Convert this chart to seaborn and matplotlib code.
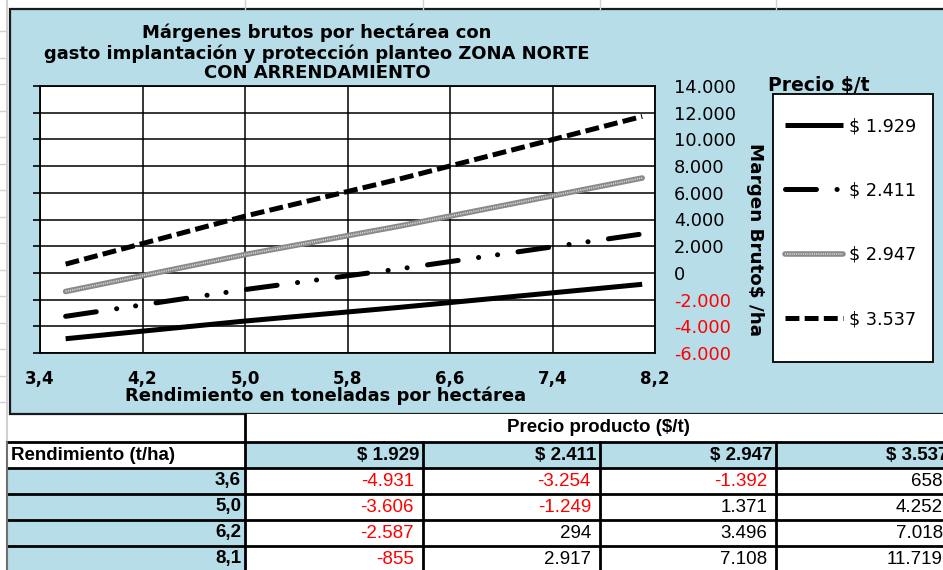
import matplotlib
matplotlib.use("Agg")
import matplotlib.pyplot as plt
import numpy as np
import pandas as pd
import seaborn as sns
from matplotlib.patches import Rectangle
from matplotlib.lines import Line2D
from matplotlib import font_manager

# ---------------- data ----------------
rendimientos = [3.6, 5.0, 6.2, 8.1]
precios = [1929, 2411, 2947, 3537]
margen_1929 = [-4931, -3606, -2587, -855]
margen_2411 = [-3254, -1249, 294, 2917]
margen_2947 = [-1392, 1371, 3496, 7108]
margen_3537 = [658, 4252, 7018, 11719]
x_ticks = [3.4, 4.2, 5.0, 5.8, 6.6, 7.4, 8.2]
y_ticks = [-6000, -4000, -2000, 0, 2000, 4000, 6000, 8000, 10000, 12000, 14000]

titulo = ("Márgenes brutos por hectárea con\n"
          "gasto implantación y protección planteo ZONA NORTE\n"
          "CON ARRENDAMIENTO")
x_label = "Rendimiento en toneladas por hectárea"
y_label = "Margen Bruto$ /ha"
legend_title = "Precio $/t"
tabla_titulo = "Precio producto ($/t)"
tabla_rend = "Rendimiento (t/ha)"


def fmt_miles(v):
    return f"{v:,.0f}".replace(",", ".")


def fmt_dec(v):
    return f"{v:.1f}".replace(".", ",")


precio_labels = ["$ " + fmt_miles(p) for p in precios]
series = [margen_1929, margen_2411, margen_2947, margen_3537]

# ---------------- style ----------------
sns.set_style("white")
plt.rcParams["font.family"] = ["DejaVu Sans"]
plt.rcParams["text.color"] = "black"
plt.rcParams["xtick.color"] = "black"
plt.rcParams["ytick.color"] = "black"
plt.rcParams["lines.scale_dashes"] = False

W, H = 943, 570
LIGHT_BLUE = "#B7DDE8"

fig = plt.figure(figsize=(W / 100, H / 100), dpi=100)
fig.patch.set_facecolor("white")


def fx(px):
    return px / W


def fy(py):
    return 1 - py / H


# table font: narrow if available
names = {f.name for f in font_manager.fontManager.ttflist}
if "Liberation Sans Narrow" in names:
    TFONT, TSIZE = "Liberation Sans Narrow", 16.0
else:
    TFONT, TSIZE = "Liberation Sans", 13.5

# background axes in pixel coordinates
bg = fig.add_axes([0, 0, 1, 1])
bg.set_xlim(0, W)
bg.set_ylim(H, 0)
bg.axis("off")
bg.set_zorder(0)

# spreadsheet grid hints
for xv in [245, 423, 600, 776]:
    bg.plot([xv, xv], [0, 9], color="#d0d0d0", lw=1)
bg.plot([7, 7], [0, 442], color="#d0d0d0", lw=1.5)
for yv in np.arange(31, 414, 26.5):
    bg.plot([0, 7], [yv, yv], color="#d0d0d0", lw=1)

# chart area
bg.add_patch(Rectangle((10, 9), 945, 405, facecolor=LIGHT_BLUE,
                       edgecolor="#1a1a1a", lw=1.6))
# legend box
bg.add_patch(Rectangle((773, 94), 160, 268, facecolor="white",
                       edgecolor="black", lw=1.3))

# ---------------- main plot ----------------
ax = fig.add_axes([fx(40), fy(353), (655 - 40) / W, (353 - 86) / H])
ax.set_zorder(2)
ax.set_facecolor("white")

df = pd.DataFrame({
    "Rendimiento": [r for _ in precios for r in rendimientos],
    "Margen": [v for s in series for v in s],
    "Precio": [lab for lab in precio_labels for _ in rendimientos],
})

palette = ["black", "black", "#8a8a8a", "black"]
sns.lineplot(data=df, x="Rendimiento", y="Margen", hue="Precio",
             hue_order=precio_labels, palette=palette, legend=False,
             ax=ax, lw=3.6)
lines = list(ax.lines[:4])

lines[0].set_solid_capstyle("butt")
lines[1].set_dashes([22.3, 14.8, 0.1, 13.7, 0.1, 14.8])
lines[1].set_dash_capstyle("round")
lines[2].set_linewidth(4.0)
lines[3].set_dashes([10, 3.8])
lines[3].set_dash_capstyle("butt")

# texture overlay for the grey series
sub = df[df["Precio"] == precio_labels[2]]
sns.lineplot(data=sub, x="Rendimiento", y="Margen", color="#dcdcdc",
             lw=1.2, ax=ax, legend=False)
overlay = ax.lines[-1]
overlay.set_dashes([0.8, 0.8])

ax.set_xlim(x_ticks[0], x_ticks[-1])
ax.set_ylim(y_ticks[0], y_ticks[-1])
ax.set_xlabel("")
ax.set_ylabel("")
ax.set_xticks(x_ticks)
ax.set_xticklabels([fmt_dec(v) for v in x_ticks], fontweight="bold",
                   fontsize=12)
ax.set_yticks(y_ticks)
ax.set_yticklabels([fmt_miles(v) for v in y_ticks], fontsize=12.8)
ax.tick_params(axis="x", length=0, pad=12.5)
ax.tick_params(axis="y", left=True, right=False, labelleft=False,
               labelright=True, length=5, width=1.2, direction="out",
               pad=8.5, color="black")
for tick, v in zip(ax.yaxis.get_major_ticks(), y_ticks):
    tick.label2.set_color("#FF0000" if v < 0 else "black")
ax.grid(True, color="black", lw=1.1)
for sp in ax.spines.values():
    sp.set_color("black")
    sp.set_linewidth(1.3)
    sp.set_visible(True)

# ---------------- texts ----------------
fig.text(fx(317), fy(53), titulo, ha="center", va="center",
         multialignment="center", fontsize=13, fontweight="bold",
         linespacing=1.13, color="black")
fig.text(fx(326), fy(396), x_label, ha="center", va="center",
         fontsize=13, fontweight="bold", color="black")
fig.text(fx(755), fy(240), y_label, ha="center", va="center",
         rotation=270, fontsize=13.2, fontweight="bold", color="black")
fig.text(fx(768), fy(86), legend_title, ha="left", va="center",
         fontsize=13.5, fontweight="bold", zorder=10, color="black")

# ---------------- legend ----------------
handles = [
    Line2D([], [], color="black", lw=3.6, solid_capstyle="butt"),
    Line2D([], [], color="black", lw=3.6,
           dashes=[22.3, 14.8, 0.1, 13.7, 0.1, 14.8], dash_capstyle="round"),
    (Line2D([], [], color="#8a8a8a", lw=4.0),
     Line2D([], [], color="#dcdcdc", lw=1.2, dashes=[0.8, 0.8])),
    Line2D([], [], color="black", lw=3.6, dashes=[10, 3.8]),
]
leg = fig.legend(handles, precio_labels, loc="upper left",
                 bbox_to_anchor=(fx(785), fy(117)), frameon=False,
                 fontsize=12.7, handlelength=3.3, handletextpad=0.35,
                 labelspacing=2.63, borderpad=0, borderaxespad=0)
for t in leg.get_texts():
    t.set_color("black")

# ---------------- table ----------------
col_edges = [7, 245, 423, 600, 776, 952]
row_edges = [414, 442, 468, 494, 520, 546, 572]

bg.add_patch(Rectangle((245, 414), 952 - 245, 28, facecolor="white",
                       edgecolor="none"))
bg.text((245 + 952) / 2, 428, tabla_titulo, ha="center", va="center",
        fontsize=TSIZE, fontweight="bold", family=TFONT)

# header row
bg.text(11, 455, tabla_rend, ha="left", va="center", fontsize=TSIZE,
        fontweight="bold", family=TFONT)
for j, lab in enumerate(precio_labels):
    x0, x1 = col_edges[j + 1], col_edges[j + 2]
    bg.add_patch(Rectangle((x0, 442), x1 - x0, 26, facecolor=LIGHT_BLUE,
                           edgecolor="none"))
    bg.text(x1 - 4, 455, lab, ha="right", va="center", fontsize=TSIZE,
            fontweight="bold", family=TFONT)

# data rows
for i, r in enumerate(rendimientos):
    y0, y1 = row_edges[i + 2], row_edges[i + 3]
    yc = (y0 + y1) / 2
    bg.add_patch(Rectangle((7, y0), 245 - 7, y1 - y0, facecolor=LIGHT_BLUE,
                           edgecolor="none"))
    bg.text(241, yc, fmt_dec(r), ha="right", va="center", fontsize=TSIZE,
            fontweight="bold", family=TFONT)
    for j, s in enumerate(series):
        x1 = col_edges[j + 2]
        v = s[i]
        bg.text(x1 - 9, yc, fmt_miles(v), ha="right", va="center",
                fontsize=TSIZE, family=TFONT,
                color="#FF0000" if v < 0 else "black")

for yv in row_edges[1:6]:
    bg.plot([7, 952], [yv, yv], color="black", lw=2)
bg.plot([245, 245], [414, 572], color="black", lw=2)
for xv in col_edges[2:5]:
    bg.plot([xv, xv], [442, 572], color="black", lw=2)
bg.plot([7, 7], [442, 572], color="#707070", lw=1.5)

fig.savefig("out.png", dpi=100)
